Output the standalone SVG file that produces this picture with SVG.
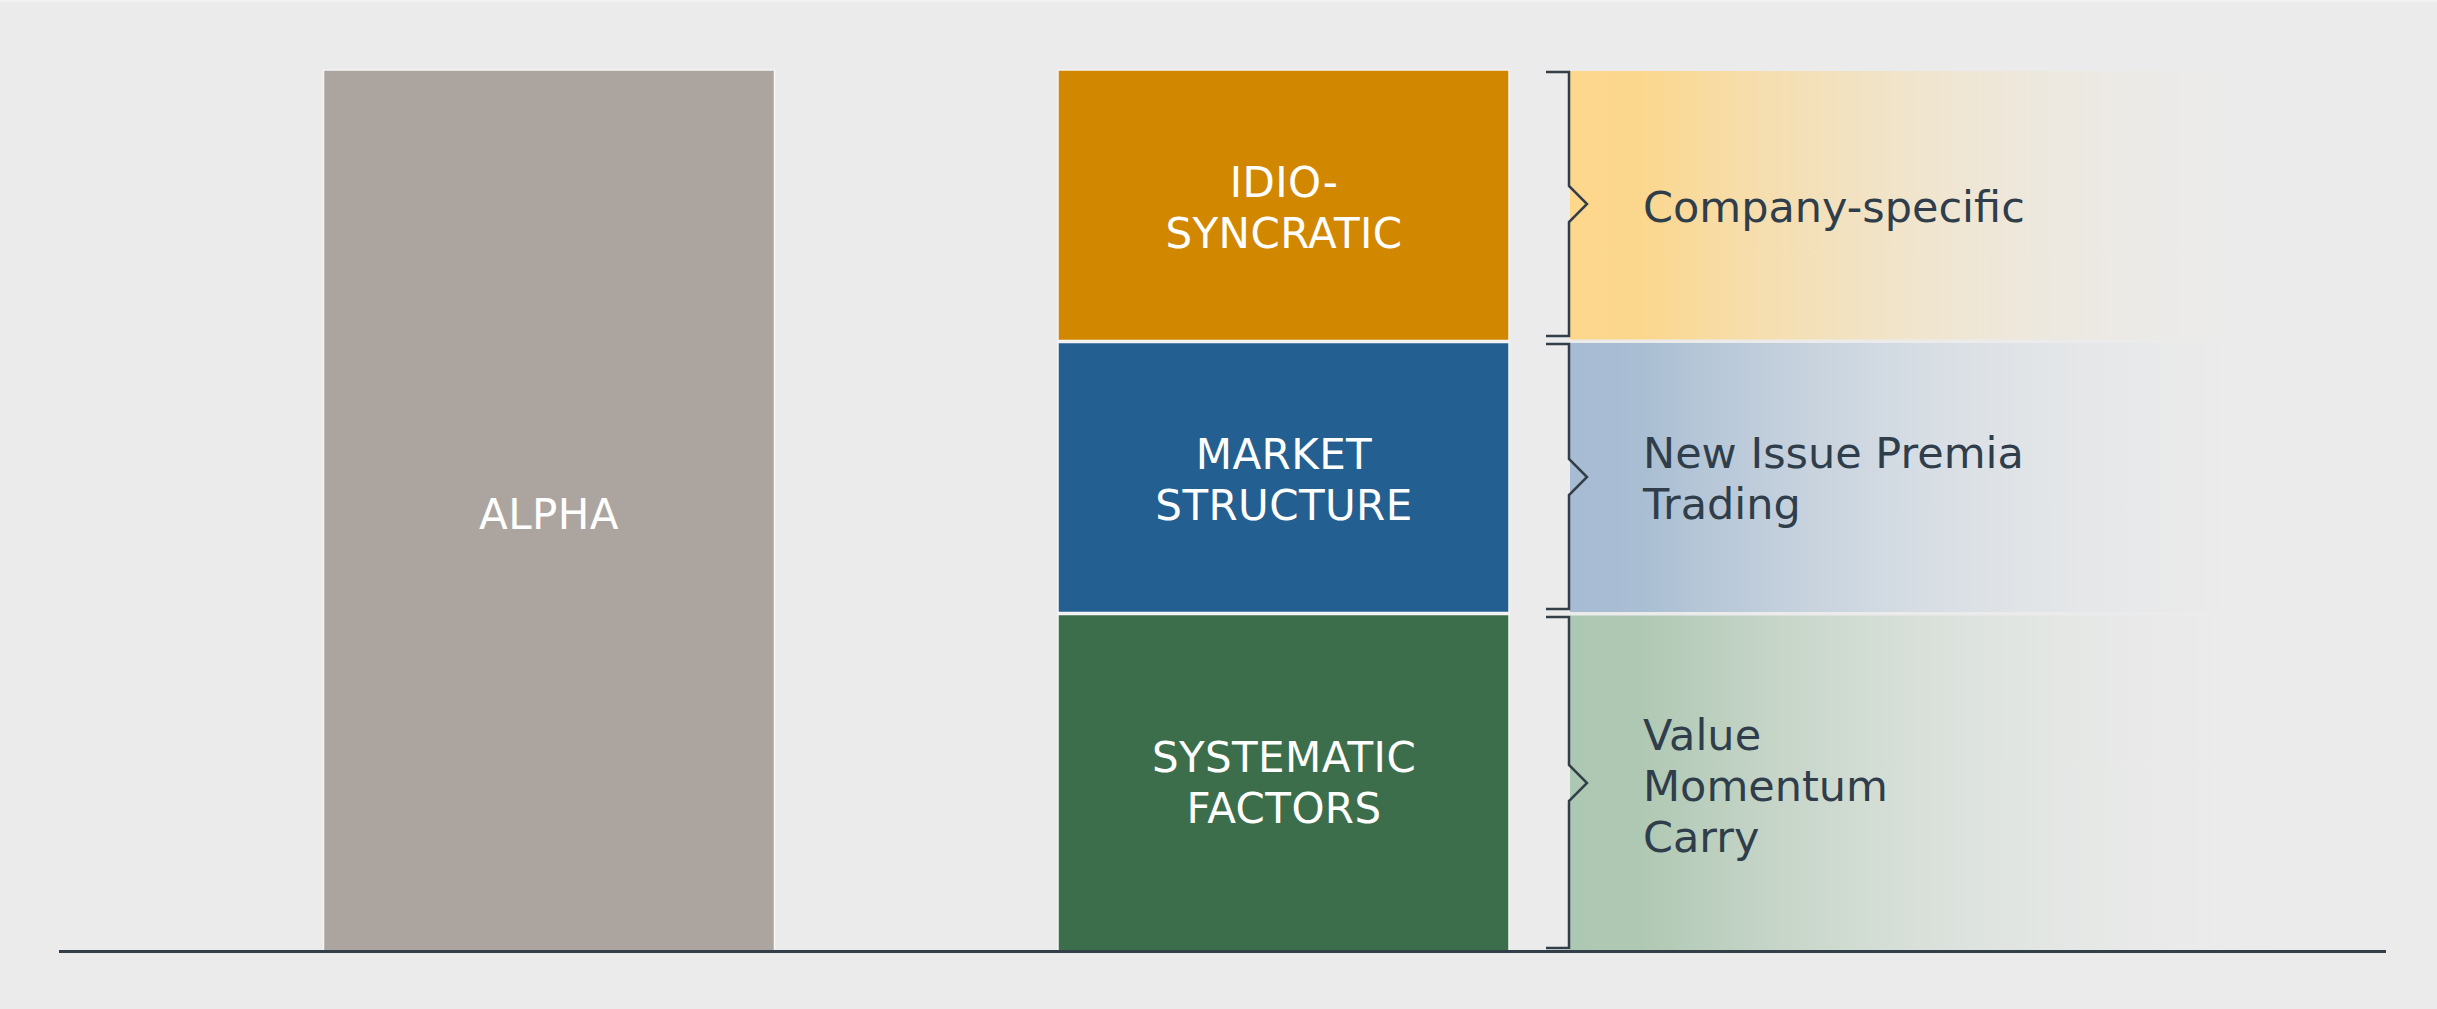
<svg xmlns="http://www.w3.org/2000/svg" width="2437" height="1009" viewBox="0 0 2437 1009">
  <defs>
    <linearGradient id="gOrange" x1="0" y1="0" x2="1" y2="0">
      <stop offset="0" stop-color="#FCD78C"/>
      <stop offset="0.1" stop-color="#FBD78E"/>
      <stop offset="1" stop-color="#EBEBEB" stop-opacity="0"/>
    </linearGradient>
    <linearGradient id="gBlue" x1="0" y1="0" x2="1" y2="0">
      <stop offset="0" stop-color="#A7BCD3"/>
      <stop offset="0.1" stop-color="#A9BED3"/>
      <stop offset="1" stop-color="#EBEBEB" stop-opacity="0"/>
    </linearGradient>
    <linearGradient id="gGreen" x1="0" y1="0" x2="1" y2="0">
      <stop offset="0" stop-color="#ADC8B2"/>
      <stop offset="0.1" stop-color="#AFC8B3"/>
      <stop offset="1" stop-color="#EBEBEB" stop-opacity="0"/>
    </linearGradient>
  </defs>
  <style>
    .box { stroke: #F5F5F5; stroke-width: 1.5; }
    .panel { stroke: none; }
    .lbl { font-family: "DejaVu Sans", Verdana, sans-serif; font-size: 42px; letter-spacing: 0.4px; fill: #FFFFFF; text-anchor: middle; }
    .desc { font-family: "DejaVu Sans", Verdana, sans-serif; font-size: 43px; fill: #2F3E4A; }
    .brace { fill: none; stroke: #333F48; stroke-width: 2.5; stroke-linejoin: miter; }
    .axis { stroke: #333F48; stroke-width: 3; }
  </style>
  <rect x="0" y="0" width="2437" height="1009" fill="#F2F2F2"/>
  <rect x="0" y="2" width="2437" height="1007" fill="#EBEBEB"/>

  <g id="alpha">
    <rect class="box" x="323.5" y="70" width="451" height="881" fill="#ACA59F"/>
    <text class="lbl" x="549" y="529">ALPHA</text>
  </g>

  <g id="idiosyncratic">
    <rect class="box" x="1058" y="70" width="451" height="270.5" fill="#D18700"/>
    <text class="lbl" x="1284" y="197">IDIO-</text>
    <text class="lbl" x="1284" y="248">SYNCRATIC</text>
  </g>

  <g id="market-structure">
    <rect class="box" x="1058" y="342.5" width="451" height="270" fill="#235F90"/>
    <text class="lbl" x="1284" y="469">MARKET</text>
    <text class="lbl" x="1284" y="520">STRUCTURE</text>
  </g>

  <g id="systematic-factors">
    <rect class="box" x="1058" y="614.5" width="451" height="336.5" fill="#3C6E4B"/>
    <text class="lbl" x="1284" y="772">SYSTEMATIC</text>
    <text class="lbl" x="1284" y="823">FACTORS</text>
  </g>

  <g id="company-specific">
    <rect class="panel" x="1570" y="71" width="710" height="268.5" fill="url(#gOrange)"/>
    <text class="desc" x="1643" y="222">Company-specific</text>
  </g>

  <g id="market-detail">
    <rect class="panel" x="1570" y="343" width="710" height="269" fill="url(#gBlue)"/>
    <text class="desc" x="1643" y="468">New Issue Premia</text>
    <text class="desc" x="1643" y="519">Trading</text>
  </g>

  <g id="factor-detail">
    <rect class="panel" x="1570" y="615.5" width="710" height="334.5" fill="url(#gGreen)"/>
    <text class="desc" x="1643" y="750">Value</text>
    <text class="desc" x="1643" y="801">Momentum</text>
    <text class="desc" x="1643" y="852">Carry</text>
  </g>

  <g id="connectors">
    <path class="brace" d="M1546,72 H1569 V186 L1587,204 L1569,222 V336 H1546"/>
    <path class="brace" d="M1546,344 H1569 V459 L1587,477 L1569,495 V609 H1546"/>
    <path class="brace" d="M1546,617 H1569 V765 L1587,783 L1569,801 V948 H1546"/>
    <line class="axis" x1="59" y1="951.5" x2="2386" y2="951.5"/>
  </g>
</svg>
